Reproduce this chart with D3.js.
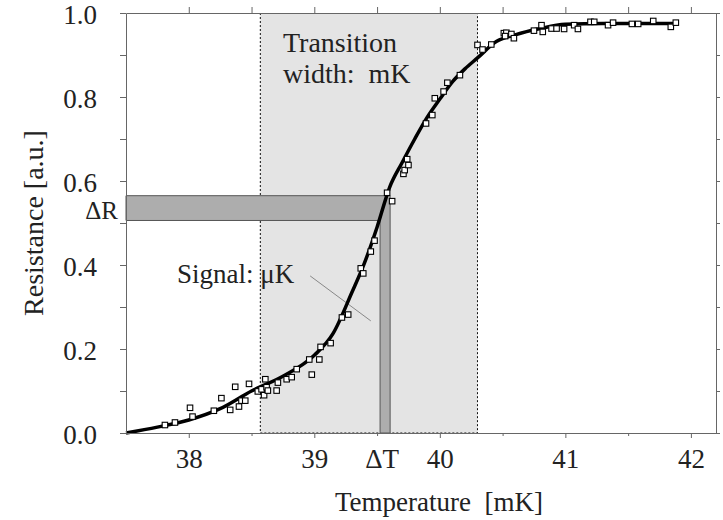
<!DOCTYPE html>
<html>
<head>
<meta charset="utf-8">
<script src="https://cdn.jsdelivr.net/npm/d3@7"></script>
<style>
  body { margin: 0; background: #fff; }
  text { font-family: "Liberation Serif", "Times New Roman", serif; fill: #222; }
</style>
</head>
<body>
<svg id="chart"></svg>
<script>
// tick values and labels
const xTicks = [38, 39, 40, 41, 42];
const xTickLabels = ["38", "39", "40", "41", "42"];
const xMinorTicks = [38.5, 39.5, 40.5, 41.5];
const yTicks = [0, 0.2, 0.4, 0.6, 0.8, 1.0];
const yTickLabels = ["0.0", "0.2", "0.4", "0.6", "0.8", "1.0"];
const yMinorTicks = [0.1, 0.3, 0.5, 0.7, 0.9];

// fitted curve
const fitT = [37.5, 37.75, 38.0, 38.25, 38.5, 38.75, 39.0, 39.15, 39.3, 39.4, 39.5, 39.6,
              39.7, 39.8, 39.9, 40.0, 40.1, 40.2, 40.3, 40.45, 40.6, 40.8, 41.0, 41.3, 41.6, 41.88];
const fitR = [0.0, 0.014, 0.031, 0.058, 0.100, 0.135, 0.185, 0.237, 0.335, 0.405, 0.490, 0.585,
              0.644, 0.700, 0.752, 0.795, 0.836, 0.867, 0.893, 0.932, 0.948, 0.963, 0.973, 0.975, 0.975, 0.975];

// measured points
const dataT = [37.81, 37.89, 38.01, 38.03, 38.20, 38.26, 38.33, 38.37, 38.40, 38.42, 38.45, 38.48,
               38.55, 38.58, 38.60, 38.61, 38.62, 38.63, 38.70, 38.71, 38.78, 38.82, 38.86, 38.96,
               38.98, 39.04, 39.05, 39.13, 39.22, 39.27, 39.37, 39.39, 39.45, 39.48, 39.58, 39.62,
               39.71, 39.72, 39.75, 39.74, 39.89, 39.94, 39.96, 40.03, 40.06, 40.16, 40.30, 40.34,
               40.41, 40.51, 40.53, 40.52, 40.57, 40.59, 40.75, 40.81, 40.82, 40.89, 40.93, 40.99,
               41.07, 41.10, 41.20, 41.23, 41.34, 41.38, 41.53, 41.58, 41.70, 41.84, 41.88];
const dataR = [0.019, 0.025, 0.060, 0.039, 0.053, 0.083, 0.055, 0.110, 0.063, 0.077, 0.077, 0.117,
               0.099, 0.104, 0.090, 0.128, 0.109, 0.101, 0.101, 0.120, 0.128, 0.133, 0.152, 0.175,
               0.139, 0.175, 0.205, 0.214, 0.275, 0.282, 0.392, 0.380, 0.432, 0.458, 0.572, 0.552,
               0.617, 0.626, 0.638, 0.652, 0.737, 0.757, 0.797, 0.813, 0.834, 0.852, 0.924, 0.913,
               0.925, 0.952, 0.953, 0.945, 0.950, 0.940, 0.958, 0.971, 0.955, 0.963, 0.963, 0.962,
               0.971, 0.962, 0.979, 0.979, 0.971, 0.977, 0.974, 0.974, 0.981, 0.967, 0.977];

// annotation ranges
const transitionRange = [38.57, 40.30];
const deltaR = [0.506, 0.565];
const deltaT = [39.524, 39.604];
const signalLine = [[38.967, 0.374], [39.45, 0.267]];

const width = 723, height = 520;
const margin = {top: 13, right: 7, bottom: 87, left: 126};

const svg = d3.select('#chart')
    .attr('width', width)
    .attr('height', height);

const x = d3.scaleLinear()
    .domain([37.5, 42.2])
    .range([margin.left, width - margin.right]);
const y = d3.scaleLinear()
    .domain([0, 1])
    .range([height - margin.bottom, margin.top]);

const x0 = x.range()[0], x1 = x.range()[1];
const y0 = y.range()[0], y1 = y.range()[1];

// transition width region
svg.append('rect')
    .attr('x', x(transitionRange[0]))
    .attr('y', y1)
    .attr('width', x(transitionRange[1]) - x(transitionRange[0]))
    .attr('height', y0 - y1)
    .attr('fill', '#e4e4e4');

svg.append('path')
    .attr('d', `M${x(transitionRange[0])},${y1}V${y0}H${x(transitionRange[1])}V${y1}`)
    .attr('fill', 'none')
    .attr('stroke', '#111')
    .attr('stroke-width', 1)
    .attr('stroke-dasharray', '2,2');

// delta R / delta T bands (L shape)
const band = [
  [x0, deltaR[1]], [deltaT[1], deltaR[1]], [deltaT[1], 0], [deltaT[0], 0],
  [deltaT[0], deltaR[0]], [x0, deltaR[0]]
];
svg.append('path')
    .attr('d', 'M' + band.map((p, i) => `${i === 0 || i === 5 ? p[0] : x(p[0])},${y(p[1])}`).join('L') + 'Z')
    .attr('fill', '#adadad')
    .attr('stroke', '#555')
    .attr('stroke-width', 1);

// signal pointer
svg.append('line')
    .attr('x1', x(signalLine[0][0])).attr('y1', y(signalLine[0][1]))
    .attr('x2', x(signalLine[1][0])).attr('y2', y(signalLine[1][1]))
    .attr('stroke', '#888')
    .attr('stroke-width', 1);

// fitted curve
const line = d3.line()
    .x(d => x(d[0]))
    .y(d => y(d[1]))
    .curve(d3.curveMonotoneX);

svg.append('path')
    .datum(fitT.map((t, i) => [t, fitR[i]]))
    .attr('d', line)
    .attr('fill', 'none')
    .attr('stroke', '#000')
    .attr('stroke-width', 3.5);

// data squares
const s = 5.5;
svg.append('g')
  .selectAll('rect')
  .data(dataT.map((t, i) => [t, dataR[i]]))
  .join('rect')
    .attr('x', d => x(d[0]) - s / 2)
    .attr('y', d => y(d[1]) - s / 2)
    .attr('width', s)
    .attr('height', s)
    .attr('fill', '#fff')
    .attr('stroke', '#000')
    .attr('stroke-width', 1.1);

// axes
const fontSize = 27;
const frame = '#666';

function styleAxis(g) {
  g.select('.domain').attr('stroke', frame);
  g.selectAll('.tick line').attr('stroke', frame);
}

// bottom
svg.append('g')
    .attr('transform', `translate(0,${y0})`)
    .call(d3.axisBottom(x).tickValues(xTicks).tickSize(5).tickSizeOuter(0)
      .tickPadding(11).tickFormat((d, i) => xTickLabels[i]))
    .call(styleAxis)
    .call(g => g.selectAll('text').attr('font-size', fontSize).attr('font-family', null).attr('fill', '#222'));
svg.append('g')
    .attr('transform', `translate(0,${y0})`)
    .call(d3.axisBottom(x).tickValues(xMinorTicks).tickSize(3).tickSizeOuter(0).tickFormat(''))
    .call(styleAxis);

// top
svg.append('g')
    .attr('transform', `translate(0,${y1})`)
    .call(d3.axisTop(x).tickValues(xTicks.concat(xMinorTicks)).tickSize(6).tickSizeOuter(0).tickFormat(''))
    .call(styleAxis);

// left
svg.append('g')
    .attr('transform', `translate(${x0},0)`)
    .call(d3.axisLeft(y).tickValues(yTicks.concat(yMinorTicks)).tickSize(6).tickSizeOuter(0).tickFormat(''))
    .call(styleAxis);
svg.append('g')
    .attr('transform', `translate(${x0},0)`)
    .call(d3.axisLeft(y).tickValues(yTicks).tickSize(0).tickPadding(29)
      .tickFormat((d, i) => yTickLabels[i]))
    .call(g => g.select('.domain').remove())
    .call(g => g.selectAll('text').attr('font-size', fontSize).attr('font-family', null)
      .attr('fill', '#222').attr('dy', '0.4em'));

// right
svg.append('g')
    .attr('transform', `translate(${x1},0)`)
    .call(d3.axisRight(y).tickValues(yTicks.concat(yMinorTicks)).tickSize(4).tickSizeOuter(0).tickFormat(''))
    .call(styleAxis);

// axis titles
svg.append('text')
    .attr('x', (x0 + x1) / 2 + 18)
    .attr('y', 511)
    .attr('text-anchor', 'middle')
    .attr('font-size', fontSize)
    .attr('xml:space', 'preserve')
    .text('Temperature  [mK]');

svg.append('text')
    .attr('transform', `translate(43,${(y0 + y1) / 2}) rotate(-90)`)
    .attr('text-anchor', 'middle')
    .attr('font-size', 28)
    .text('Resistance [a.u.]');

// annotations
svg.append('text')
    .attr('x', 283).attr('y', 52)
    .attr('font-size', 28)
    .text('Transition');
svg.append('text')
    .attr('x', 283).attr('y', 83)
    .attr('font-size', 28)
    .attr('xml:space', 'preserve')
    .text('width:  mK');

svg.append('text')
    .attr('x', 177).attr('y', 283)
    .attr('font-size', fontSize)
    .text('Signal: μK');

svg.append('text')
    .attr('x', 118).attr('y', 219)
    .attr('text-anchor', 'end')
    .attr('font-size', 25)
    .text('ΔR');

svg.append('text')
    .attr('x', x((deltaT[0] + deltaT[1]) / 2) - 3).attr('y', 468)
    .attr('text-anchor', 'middle')
    .attr('font-size', fontSize)
    .text('ΔT');
</script>
</body>
</html>
